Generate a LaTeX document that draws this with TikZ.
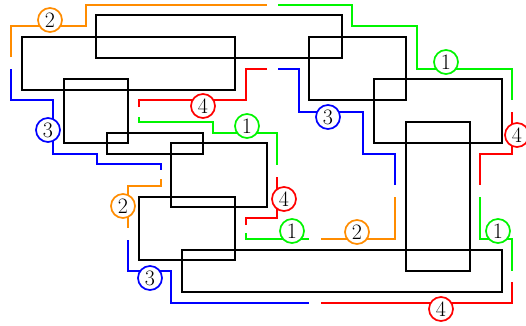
\documentclass[tikz,border=0pt]{standalone}
\definecolor{wOrange}{RGB}{255,140,0}
\definecolor{wGreen}{RGB}{0,245,0}
\definecolor{wBlue}{RGB}{0,0,255}
\definecolor{wRed}{RGB}{255,0,0}
\begin{document}
\begin{tikzpicture}[x=1pt,y=-1pt,
  box/.style={draw=black, line width=2pt},
  wire/.style={line width=1.8pt},
  lab/.style={circle, draw=#1, line width=1.7pt, fill=white, text=black, inner sep=0pt,
    minimum size=24pt, font=\fontsize{22}{22}\selectfont}]
\useasboundingbox (0,0) rectangle (526,325);
% boxes
\draw[box] (22,37) rectangle (235,90);
\draw[box] (96,15) rectangle (342,58);
\draw[box] (64,79) rectangle (128,143);
\draw[box] (107,133) rectangle (203,154);
\draw[box] (171,143) rectangle (267,207);
\draw[box] (139,197) rectangle (235,260);
\draw[box] (182,250) rectangle (502,292);
\draw[box] (309,37) rectangle (406,100);
\draw[box] (374,79) rectangle (502,143);
\draw[box] (406,122) rectangle (470,271);
% wires
\draw[wire,wOrange] (11,57) -- (11,26) -- (86,26) -- (86,5) -- (267,5);
\draw[wire,wBlue] (11,69) -- (11,100) -- (53,100) -- (53,154) -- (97,154) -- (97,164) -- (161,164) -- (161,170);
\draw[wire,wRed] (139,107) -- (139,100) -- (246,100) -- (246,69) -- (267,69);
\draw[wire,wGreen] (139,117) -- (139,122) -- (213,122) -- (213,133) -- (277,133) -- (277,165);
\draw[wire,wGreen] (278,5) -- (352,5) -- (352,26) -- (417,26) -- (417,69) -- (512,69) -- (512,100);
\draw[wire,wBlue] (278,69) -- (299,69) -- (299,112) -- (363,112) -- (363,154) -- (395,154) -- (395,185);
\draw[wire,wRed] (512,112) -- (512,154) -- (480,154) -- (480,185);
\draw[wire,wRed] (246,225) -- (246,218) -- (277,218) -- (277,177);
\draw[wire,wGreen] (246,233) -- (246,239) -- (309,239);
\draw[wire,wOrange] (321,239) -- (395,239) -- (395,197);
\draw[wire,wGreen] (480,197) -- (480,239) -- (512,239) -- (512,271);
\draw[wire,wRed] (512,282) -- (512,303) -- (321,303);
\draw[wire,wBlue] (128,240) -- (128,271) -- (171,271) -- (171,303) -- (309,303);
\draw[wire,wOrange] (161,179) -- (161,186) -- (128,186) -- (128,228);
% labels
\node[lab=wOrange] (l1) at (50,20) {2};
\node[lab=wBlue] (l2) at (48,130) {3};
\node[lab=wRed] (l3) at (203,106) {4};
\node[lab=wGreen] (l4) at (247,126) {1};
\node[lab=wGreen] (l5) at (446,62) {1};
\node[lab=wBlue] (l6) at (328,117) {3};
\node[lab=wRed] (l7) at (517,135) {4};
\node[lab=wRed] (l8) at (284,199) {4};
\node[lab=wGreen] (l9) at (292,231) {1};
\node[lab=wOrange] (l10) at (357,232) {2};
\node[lab=wGreen] (l11) at (498,231) {1};
\node[lab=wRed] (l12) at (441,309) {4};
\node[lab=wBlue] (l13) at (150,278) {3};
\node[lab=wOrange] (l14) at (123,206) {2};
\end{tikzpicture}
\end{document}
